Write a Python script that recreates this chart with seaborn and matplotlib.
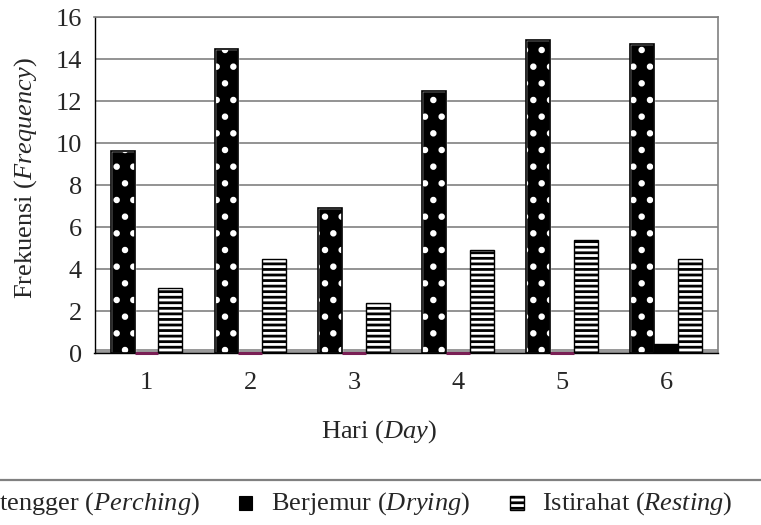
import matplotlib
matplotlib.use("Agg")
import matplotlib.pyplot as plt
import seaborn as sns
import pandas as pd
import numpy as np
from matplotlib.lines import Line2D
from matplotlib.patches import Rectangle

# ---- data ----
days = ["1", "2", "3", "4", "5", "6"]
series_names = ["Bertengger", "Berjemur", "Istirahat"]
perching = [9.6, 14.5, 6.9, 12.5, 14.9, 14.7]
drying = [0, 0, 0, 0, 0, 0.45]
resting = [3.1, 4.5, 2.4, 4.9, 5.4, 4.5]
y_ticks = [0, 2, 4, 6, 8, 10, 12, 14, 16]

sns.set_style("white")
plt.rcParams["font.family"] = ["Liberation Serif", "DejaVu Serif"]
plt.rcParams["mathtext.fontset"] = "custom"
plt.rcParams["mathtext.rm"] = "Liberation Serif"
plt.rcParams["mathtext.it"] = "Liberation Serif:italic"
FS = 19

df = pd.DataFrame({
    "Hari": days * 3,
    "Frekuensi": perching + drying + resting,
    "Aktivitas": [series_names[0]] * 6 + [series_names[1]] * 6 + [series_names[2]] * 6,
})

W, H = 761, 525
fig = plt.figure(figsize=(W / 100, H / 100), dpi=100)
ax = fig.add_axes([94.5 / W, (H - 353) / H, (718 - 94.5) / W, (353 - 17) / H])

# floor band
ax.axhspan(0, 0.17, color="#9a9a9a", zorder=1, lw=0)

sns.barplot(data=df, x="Hari", y="Frekuensi", hue="Aktivitas",
            hue_order=series_names, order=days,
            palette=["black", "black", "white"], width=0.69, gap=0,
            errorbar=None, legend=False, ax=ax, zorder=3,
            edgecolor="black", linewidth=1)

conts = ax.containers
# perching: black with white dots
for p in conts[0]:
    p.set_hatch(".")
    p.set_edgecolor("white")
    p.set_facecolor("black")
    try:
        p.set_hatch_linewidth(2.2)
    except Exception:
        pass
# outline perching bars in black on top
for p in conts[0]:
    r = Rectangle(p.get_xy(), p.get_width(), p.get_height(), fill=False,
                  edgecolor="black", lw=1.2, zorder=4)
    ax.add_patch(r)
# drying: black, zero bars show as maroon top
for p, v in zip(conts[1], drying):
    if v == 0:
        p.set_edgecolor("#7a1f55")
        p.set_linewidth(2.2)
        p.set_clip_on(False)
    else:
        p.set_edgecolor("black")
# resting: horizontal stripes
for p in conts[2]:
    p.set_hatch("---")
    p.set_edgecolor("black")
    try:
        p.set_hatch_linewidth(2.0)
    except Exception:
        pass

ax.set_xlim(-0.5, 5.5)
ax.set_ylim(0, 16)
ax.set_yticks(y_ticks)
ax.set_yticklabels([str(t) for t in y_ticks], fontsize=FS)
ax.grid(axis="y", color="#808080", lw=1.2, zorder=0)
ax.grid(axis="x", visible=False)
ax.set_axisbelow(True)

ax.set_xticks(range(len(days)))
ax.set_xticklabels(days, fontsize=FS)
ax.set_xticks(np.arange(-0.5, 6.0, 1.0), minor=True)
ax.tick_params(axis="x", which="major", length=0, pad=14)
ax.tick_params(axis="x", which="minor", length=7, width=1, color="black", direction="out")
ax.tick_params(axis="y", which="major", length=7, width=1, color="black", direction="out", pad=2)

for s in ["left", "bottom"]:
    ax.spines[s].set_color("black")
    ax.spines[s].set_linewidth(1)
for s in ["top", "right"]:
    ax.spines[s].set_color("#808080")
    ax.spines[s].set_linewidth(1.2)

ax.set_ylabel(r"Frekuensi ($\mathit{Frequency}$)", fontsize=FS)
ax.yaxis.label.set_va("center")
ax.yaxis.set_label_coords((26 - 94.5) / (718 - 94.5), (353 - 178) / 336)
ax.set_xlabel(r"Hari ($\mathit{Day}$)", fontsize=FS)
ax.xaxis.label.set_va("center")
ax.xaxis.set_label_coords((379 - 94.5) / (718 - 94.5), (353 - 432) / 336)

# ---- legend (partially off-canvas, like the reference) ----
fy = lambda y: 1 - y / H
fx = lambda x: x / W
fig.add_artist(Line2D([0, 1], [fy(480), fy(480)], transform=fig.transFigure,
                      color="#808080", lw=1.6))
base = fy(510)
fig.text(fx(200), base, r"Bertengger ($\mathit{Perching}$)", ha="right", va="baseline", fontsize=FS)
fig.add_artist(Rectangle((fx(239), fy(510)), fx(13), 14 / H, transform=fig.transFigure,
                         facecolor="black", edgecolor="black", lw=0.8))
fig.text(fx(271), base, r"Berjemur ($\mathit{Drying}$)", ha="left", va="baseline", fontsize=FS)
leg3 = Rectangle((fx(510), fy(510)), fx(14), 14 / H, transform=fig.transFigure,
                 facecolor="white", edgecolor="black", lw=1.0, hatch="---")
try:
    leg3.set_hatch_linewidth(2.0)
except Exception:
    pass
fig.add_artist(leg3)
fig.text(fx(542), base, r"Istirahat ($\mathit{Resting}$)", ha="left", va="baseline", fontsize=FS)

fig.savefig("out.png", dpi=100)
